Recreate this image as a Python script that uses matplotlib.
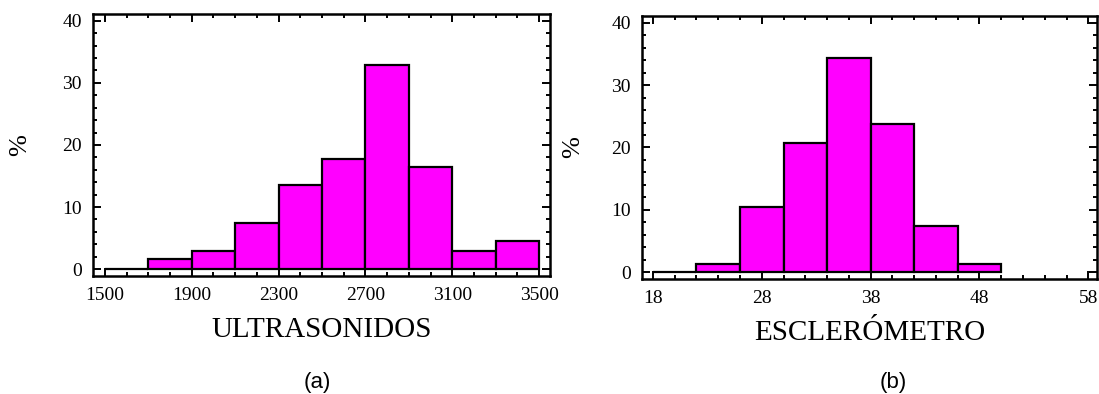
import numpy as np
import matplotlib
matplotlib.use("Agg")
import matplotlib.pyplot as plt
from matplotlib.ticker import MultipleLocator

# ultrasonidos histogram (percent per bin)
us_edges = [1500, 1700, 1900, 2100, 2300, 2500, 2700, 2900, 3100, 3300, 3500]
us_pct = [0.0, 1.7, 2.9, 7.5, 13.5, 17.8, 32.9, 16.5, 2.9, 4.6]
us_ticks = [1500, 1900, 2300, 2700, 3100, 3500]

# esclerometro histogram (percent per bin)
es_edges = [18, 22, 26, 30, 34, 38, 42, 46, 50]
es_pct = [0.0, 1.35, 10.4, 20.7, 34.4, 23.8, 7.4, 1.35]
es_ticks = [18, 28, 38, 48, 58]

y_ticks = [0, 10, 20, 30, 40]

label_font = dict(family="Liberation Serif", size=21)


def hist_panel(ax, edges, pct, xticks, xminor, xlim, xlabel, caption, cap_x, ylab_x):
    edges = np.array(edges)
    widths = np.diff(edges)
    ax.bar(edges[:-1], pct, width=widths, align="edge",
           color="#ff00ff", edgecolor="black", linewidth=1.6)
    ax.set_xlim(xlim)
    ax.set_ylim(-1.1, 41.1)
    ax.set_xticks(xticks)
    ax.set_yticks(y_ticks)
    ax.xaxis.set_minor_locator(MultipleLocator(xminor))
    ax.yaxis.set_minor_locator(MultipleLocator(2))
    ax.tick_params(which="both", direction="in", top=True, right=True, width=1.4)
    ax.tick_params(which="major", length=6, pad=8)
    ax.tick_params(which="minor", length=3)
    for lab in ax.get_xticklabels() + ax.get_yticklabels():
        lab.set_fontfamily("Liberation Serif")
        lab.set_fontsize(14)
    for s in ax.spines.values():
        s.set_linewidth(1.8)
    ax.set_xlabel(xlabel, labelpad=9, **label_font)
    ax.set_ylabel("%", family="Liberation Serif", size=19)
    ax.yaxis.set_label_coords(ylab_x, 0.5)
    fig.text(cap_x, 0.028, caption, ha="center", va="center",
             family="Liberation Sans", size=16)


fig = plt.figure(figsize=(10.99, 3.94), dpi=100)
ax1 = fig.add_axes([0.0846, 0.2995, 0.4158, 0.665])
ax2 = fig.add_axes([0.5842, 0.2919, 0.414, 0.6675])

hist_panel(ax1, us_edges, us_pct, us_ticks, 100, (1445, 3550), "ULTRASONIDOS", "(a)",
           317 / 1099, -0.136)
hist_panel(ax2, es_edges, es_pct, es_ticks, 2, (17.0, 58.8), "ESCLERÓMETRO", "(b)",
           893 / 1099, -0.128)

fig.savefig("out.png", dpi=100)
